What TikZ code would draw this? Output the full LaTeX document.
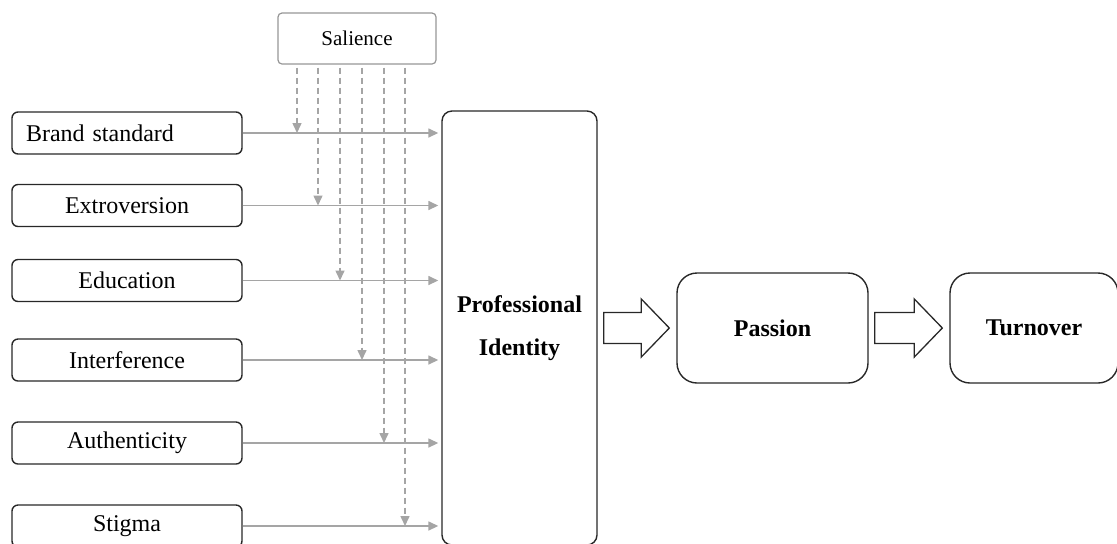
\documentclass[tikz,border=0pt]{standalone}
\usepackage{fontspec}
\setmainfont{Liberation Serif}
\usetikzlibrary{arrows.meta,calc}
\definecolor{linkgray}{RGB}{165,165,165}
\definecolor{salgray}{RGB}{150,150,150}
\definecolor{edgeblack}{RGB}{40,40,40}

% hollow block arrow between two nodes
\newcommand\blockarrow[2]{%
  \coordinate (ba-s) at ($(#1.east)+(6,0)$);
  \coordinate (ba-e) at ($(#2.west)+(-7,0)$);
  \draw [blockarr] ($(ba-s)+(0,-15.5)$) -- ($(ba-e)+(-28,-15.5)$) -- ($(ba-e)+(-28,-29)$)
    -- (ba-e) -- ($(ba-e)+(-28,29)$) -- ($(ba-e)+(-28,15.5)$) -- ($(ba-s)+(0,15.5)$) -- cycle;}

\begin{document}
\begin{tikzpicture}[x=0.5pt,y=-0.5pt,
  factor/.style={draw=edgeblack,line width=0.7pt,rounded corners=3pt,text width=101pt,inner xsep=7pt,
    minimum height=21pt,align=center,font=\fontsize{12}{14.5}\selectfont},
  outcome/.style={draw=edgeblack,line width=0.7pt,rounded corners=10pt,minimum height=55pt,
    font=\fontsize{12}{14.5}\selectfont\bfseries},
  infl/.style={draw=linkgray,line width=0.75pt,-{Triangle[length=5pt,width=4.5pt]},shorten >=1.5pt},
  moder/.style={infl,dash pattern=on 3pt off 2pt,shorten >=0pt,shorten <=1.5pt},
  blockarr/.style={draw=edgeblack,line width=0.65pt,fill=white}]
  \path [use as bounding box,clip] (0,0) rectangle (1117,543);

  \node [draw=salgray,line width=0.6pt,rounded corners=2pt,minimum width=79pt,minimum height=25.5pt,
    font=\fontsize{10.5}{12}\selectfont] (sal) at (357,38.5) {Salience};

  \node [factor,align=left] (f1) at (127,133) {Brand standard};
  \node [factor] (f2) at (127,205.5) {Extroversion};
  \node [factor] (f3) at (127,280.5) {Education};
  \node [factor] (f4) at (127,360) {Interference};
  \node [factor] (f5) at (127,443) {Authenticity};
  \node [factor] (f6) at (127,526) {Stigma};

  \node [draw=edgeblack,line width=0.7pt,rounded corners=5pt,minimum width=77.5pt,minimum height=217pt,
    align=center,font=\fontsize{12}{14.5}\selectfont\bfseries] (pi) at (519.5,328) {Professional\\[7pt]Identity};
  \node [outcome,minimum width=95.5pt] (pas) at (772.5,328) {Passion};
  \node [outcome,minimum width=84pt] (turn) at (1034,328) {Turnover};

  \draw [infl] (f1.east) -- (f1.east -| pi.west);
  \draw [infl] (f2.east) -- (f2.east -| pi.west);
  \draw [infl] (f3.east) -- (f3.east -| pi.west);
  \draw [infl] (f4.east) -- (f4.east -| pi.west);
  \draw [infl] (f5.east) -- (f5.east -| pi.west);
  \draw [infl] (f6.east) -- (f6.east -| pi.west);

  \coordinate (d1) at (297,0);
  \coordinate (d2) at (318,0);
  \coordinate (d3) at (340,0);
  \coordinate (d4) at (362,0);
  \coordinate (d5) at (384,0);
  \coordinate (d6) at (405,0);
  \draw [moder] (sal.south -| d1) -- (f1.east -| d1);
  \draw [moder] (sal.south -| d2) -- (f2.east -| d2);
  \draw [moder] (sal.south -| d3) -- (f3.east -| d3);
  \draw [moder] (sal.south -| d4) -- (f4.east -| d4);
  \draw [moder] (sal.south -| d5) -- (f5.east -| d5);
  \draw [moder] (sal.south -| d6) -- (f6.east -| d6);

  \blockarrow{pi}{pas}
  \blockarrow{pas}{turn}
\end{tikzpicture}
\end{document}
